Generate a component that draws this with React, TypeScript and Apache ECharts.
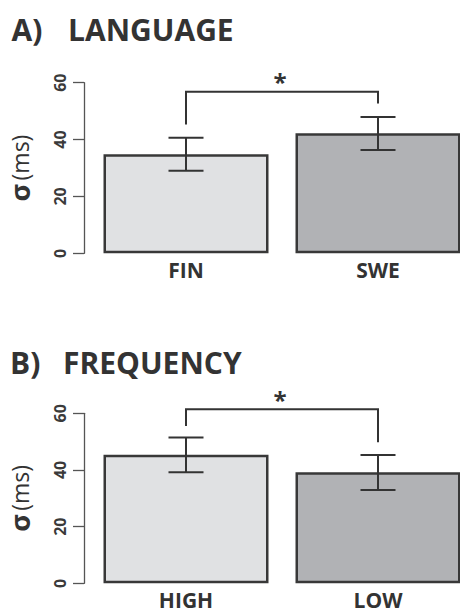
import React, { useEffect, useRef } from "react";
import * as echarts from "echarts";

const langCategories = ["FIN", "SWE"];
const langMeans = [34.8, 42.2];
const langErrLow = [29.0, 36.3];
const langErrHigh = [40.6, 47.9];
const langBracket = [45.3, 56.8, 52.7];

const freqCategories = ["HIGH", "LOW"];
const freqMeans = [45.4, 39.2];
const freqErrLow = [39.2, 32.9];
const freqErrHigh = [51.5, 45.3];
const freqBracket = [55.5, 61.4, 49.8];

const barColors = ["#e0e1e3", "#b1b2b5"];
const yTicks = { min: 0, max: 60, interval: 20 };

const FONT = '"Open Sans", "Noto Sans", sans-serif';
const INK = "#333333";

function errorSeries(idx: number, lo: number[], hi: number[]) {
  return {
    type: "custom",
    xAxisIndex: idx,
    yAxisIndex: idx,
    silent: true,
    z: 5,
    data: lo.map((l, i) => [i, l, hi[i]]),
    encode: { x: 0, y: [1, 2] },
    renderItem: (params: any, api: any) => {
      const x = api.value(0);
      const pLo = api.coord([x, api.value(1)]);
      const pHi = api.coord([x, api.value(2)]);
      const hw = 17.5;
      const style = { stroke: INK, lineWidth: 2, fill: "none" };
      return {
        type: "group",
        children: [
          { type: "line", shape: { x1: pLo[0], y1: pLo[1], x2: pHi[0], y2: pHi[1] }, style },
          { type: "line", shape: { x1: pLo[0] - hw, y1: pLo[1], x2: pLo[0] + hw, y2: pLo[1] }, style },
          { type: "line", shape: { x1: pHi[0] - hw, y1: pHi[1], x2: pHi[0] + hw, y2: pHi[1] }, style },
        ],
      };
    },
  };
}

function bracketSeries(idx: number, b: number[]) {
  return {
    type: "custom",
    xAxisIndex: idx,
    yAxisIndex: idx,
    silent: true,
    clip: false,
    z: 5,
    data: [[0, 1, b[0], b[1], b[2]]],
    encode: { x: [0, 1], y: [2, 3, 4] },
    renderItem: (params: any, api: any) => {
      const pL = api.coord([api.value(0), api.value(2)]);
      const pT = api.coord([api.value(0), api.value(3)]);
      const pR = api.coord([api.value(1), api.value(4)]);
      const pTR = api.coord([api.value(1), api.value(3)]);
      return {
        type: "group",
        children: [
          {
            type: "polyline",
            shape: { points: [[pL[0], pL[1]], [pT[0], pT[1]], [pTR[0], pTR[1]], [pR[0], pR[1]]] },
            style: { stroke: INK, lineWidth: 2, fill: "none" },
          },
          {
            type: "text",
            x: (pT[0] + pTR[0]) / 2 - 2,
            y: pT[1] - 10,
            style: {
              text: "*",
              font: `bold 24px ${FONT}`,
              fill: INK,
              align: "center",
              verticalAlign: "middle",
            },
          },
        ],
      };
    },
  };
}

function barSeries(idx: number, values: number[]) {
  return {
    type: "bar",
    xAxisIndex: idx,
    yAxisIndex: idx,
    barWidth: 165,
    silent: true,
    data: values.map((v, i) => ({
      value: v,
      itemStyle: { color: barColors[i], borderColor: "#383838", borderWidth: 2.5 },
    })),
  };
}

function yAxis(idx: number) {
  return {
    type: "value",
    gridIndex: idx,
    min: yTicks.min,
    max: yTicks.max,
    interval: yTicks.interval,
    offset: 6,
    name: "{s|σ} {m|(ms)}",
    nameLocation: "middle",
    nameRotate: 90,
    nameGap: 51,
    nameTextStyle: {
      rich: {
        s: { fontFamily: FONT, fontWeight: "bold", fontSize: 27, color: INK },
        m: { fontFamily: FONT, fontWeight: "normal", fontSize: 23, color: INK },
      },
    },
    axisLine: { show: true, lineStyle: { color: "#555", width: 1.3 } },
    axisTick: { show: true, length: 11, lineStyle: { color: "#555", width: 1.3 } },
    splitLine: { show: false },
    axisLabel: {
      rotate: 90,
      margin: 16,
      fontFamily: FONT,
      fontWeight: "bold",
      fontSize: 16,
      color: "#3a3a3a",
    },
  };
}

function xAxis(idx: number, cats: string[]) {
  return {
    type: "category",
    gridIndex: idx,
    data: cats,
    axisLine: { show: false },
    axisTick: { show: false },
    axisLabel: {
      margin: 7,
      fontFamily: FONT,
      fontWeight: "bold",
      fontSize: 21,
      lineHeight: 20,
      color: INK,
    },
  };
}

const titleStyle = { fontFamily: FONT, fontWeight: "bold", fontSize: 30, color: INK };

export default function App() {
  const ref = useRef<HTMLDivElement>(null);
  useEffect(() => {
    document.body.style.margin = "0";
    const chart = echarts.init(ref.current!, null, { renderer: "svg" });
    chart.setOption({
      animation: false,
      backgroundColor: "#ffffff",
      title: [
        { text: "A)", left: 6.5, top: 9, textStyle: titleStyle },
        { text: "LANGUAGE", left: 63, top: 9, textStyle: titleStyle },
        { text: "B)", left: 5, top: 342.5, textStyle: titleStyle },
        { text: "FREQUENCY", left: 58, top: 342.5, textStyle: titleStyle },
      ],
      grid: [
        { left: 90, top: 82.7, width: 384, height: 170.6, outerBoundsMode: "none", containLabel: false },
        { left: 90, top: 413.3, width: 384, height: 170, outerBoundsMode: "none", containLabel: false },
      ],
      xAxis: [xAxis(0, langCategories), xAxis(1, freqCategories)],
      yAxis: [yAxis(0), yAxis(1)],
      series: [
        barSeries(0, langMeans),
        errorSeries(0, langErrLow, langErrHigh),
        bracketSeries(0, langBracket),
        barSeries(1, freqMeans),
        errorSeries(1, freqErrLow, freqErrHigh),
        bracketSeries(1, freqBracket),
      ],
    });
    return () => chart.dispose();
  }, []);
  return <div ref={ref} style={{ width: 460, height: 613 }} />;
}
